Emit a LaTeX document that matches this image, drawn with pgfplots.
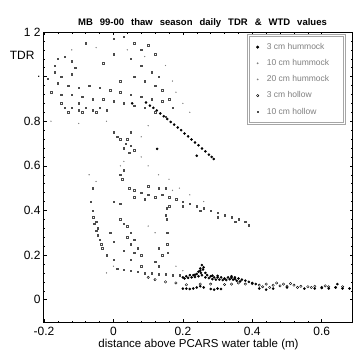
\documentclass[border=0pt]{standalone}
\usepackage{pgfplots}
\pgfplotsset{compat=1.18}
\usepackage{fontspec}
\setmainfont{Liberation Sans}
\newcommand{\lt}[1]{\makebox[68pt][l]{#1}}
\begin{document}
\begin{tikzpicture}[x=1pt,y=1pt]
\begin{axis}[
  at={(44pt,38pt)}, anchor=south west,
  width=309pt, height=290pt, scale only axis,
  xmin=-0.2, xmax=0.69, ymin=-0.1, ymax=1.2,
  xtick={-0.2,0,0.2,0.4,0.6},
  xticklabels={-0.2,0,0.2,0.4,0.6},
  ytick={0,0.2,0.4,0.6,0.8,1,1.2},
  yticklabels={0,0.2,0.4,0.6,0.8,{.},1 2},
  minor x tick num=4, minor y tick num=4,
  tick style={black, line width=0.5pt},
  major tick length=3pt, minor tick length=1.5pt,
  axis line style={line width=1pt},
  tick label style={font=\fontsize{12}{14}\selectfont},
  xticklabel style={yshift=-2pt},
  xlabel={distance above PCARS water table (m)},
  xlabel style={font=\fontsize{11.5}{13}\selectfont, yshift=4pt},
  title={\textbf{MB\hspace{7pt}99-00\hspace{7pt}thaw\hspace{7pt}season\hspace{7pt}daily\hspace{7pt}TDR\hspace{7pt}\&\hspace{7pt}WTD\hspace{7pt}values}},
  title style={font=\fontsize{9.5}{11}\selectfont, yshift=-5pt, xshift=4pt},
  legend style={at={(0.975,0.99)}, anchor=north east, draw=gray!70, double=white, double distance=1.2pt, line width=0.8pt,
     font=\fontsize{8.5}{10}\selectfont, text=gray, row sep=4.5pt, column sep=6pt, inner xsep=8pt, inner ysep=6pt},
  legend cell align=left,
  clip=false,
]
% 3 cm hummock: filled dots
\addplot[only marks, mark=*, mark size=1.1pt, black] coordinates {
(0.094,0.884)(0.105,0.87)(0.115,0.86)(0.125,0.848)(0.135,0.835)(0.145,0.822)(0.155,0.81)(0.165,0.797)(0.175,0.785)(0.185,0.772)(0.195,0.76)(0.205,0.745)(0.215,0.732)(0.225,0.718)(0.235,0.705)(0.245,0.692)(0.255,0.678)(0.265,0.665)(0.275,0.65)(0.283,0.64)(0.289,0.631)
(0.054,0.88)(0.126,0.676)(0.24,0.645)
(0.2,0.1)(0.21,0.105)(0.22,0.11)(0.23,0.11)(0.24,0.115)(0.245,0.125)(0.25,0.14)(0.255,0.155)(0.26,0.145)(0.265,0.12)(0.27,0.11)(0.28,0.105)(0.29,0.1)(0.3,0.1)(0.31,0.1)(0.32,0.095)(0.33,0.1)(0.34,0.105)(0.35,0.1)(0.36,0.095)(0.37,0.09)(0.38,0.085)(0.39,0.08)(0.4,0.075)(0.41,0.07)
(0.205,0.095)(0.215,0.098)(0.225,0.1)(0.235,0.102)(0.245,0.105)(0.255,0.11)(0.265,0.1)(0.275,0.097)(0.285,0.092)(0.295,0.09)(0.305,0.09)(0.315,0.088)(0.325,0.088)(0.335,0.092)(0.345,0.09)(0.355,0.085)(0.365,0.082)
(0.25,0.13)(0.258,0.135)(0.252,0.12)(0.235,0.112)(0.285,0.108)(0.3,0.107)(0.34,0.098)(0.35,0.093)
(0.2,0.05)(0.21,0.05)(0.22,0.048)(0.23,0.05)(0.24,0.055)(0.25,0.06)(0.26,0.055)(0.28,0.048)(0.29,0.045)(0.3,0.05)(0.31,0.048)
(0.42,0.05)(0.44,0.045)(0.46,0.05)(0.5,0.055)(0.55,0.05)(0.58,0.05)(0.6,0.052)(0.62,0.05)(0.64,0.055)(0.66,0.05)(0.68,0.05)(0.645,0.07)
};
\addlegendentry{\lt{3 cm hummock}}
% further series (small dots)
\addplot[only marks, mark=*, mark size=0.4pt, gray] coordinates {
(-0.05,0.53)(-0.07,0.56)(0.02,0.6)(0.03,0.62)(0.08,0.64)(0.1,0.6)(0.13,0.56)(0.16,0.54)(0.17,0.49)(0.19,0.5)(0.22,0.47)(0.26,0.44)(0.12,0.3)(0.1,0.33)(0.18,0.15)(0.2,0.13)(0.0,0.15)(-0.02,0.12)
};
\addlegendentry{\lt{10 cm hummock}}
\addplot[only marks, mark=*, mark size=0.4pt, gray] coordinates {
(-0.12,1.12)(-0.05,1.13)(0.04,1.12)(0.09,1.09)(0.15,1.05)(0.17,0.98)(0.18,0.93)(0.2,0.88)(0.22,0.84)(0.1,0.78)(0.08,0.73)(-0.18,0.8)(-0.1,0.79)(-0.02,0.8)
};
\addlegendentry{\lt{20 cm hummock}}
% hollow circles
\addplot[only marks, mark=o, mark size=1.2pt, black, mark options={line width=0.4pt}] coordinates {
(0.36,0.075)(0.38,0.07)(0.4,0.072)(0.42,0.065)(0.44,0.07)(0.46,0.065)(0.48,0.062)(0.5,0.06)(0.52,0.065)(0.54,0.06)(0.56,0.058)(0.58,0.06)(0.6,0.055)(0.62,0.058)(0.64,0.055)(0.43,0.058)(0.45,0.055)(0.47,0.075)(0.49,0.07)(0.51,0.072)(0.53,0.055)(0.57,0.055)(0.61,0.062)(0.66,0.058)
(0.1,0.1)(0.12,0.09)(0.15,0.08)(0.18,0.075)(0.21,0.067)(0.25,0.07)(0.28,0.07)(0.32,0.068)(0.34,0.07)
};
\addlegendentry{\lt{3 cm hollow}}
% small squares
\addplot[only marks, mark=square, mark size=0.75pt, black!70, mark options={line width=0.3pt}] coordinates {
(-0.17,1.05)(-0.16,1.08)(-0.14,1.09)(-0.12,1.07)(-0.11,1.04)(-0.12,1.01)(-0.15,1.0)(-0.17,1.02)
(-0.08,1.15)(0.0,1.17)(0.03,1.18)(0.06,1.15)(0.08,1.12)(0.1,1.14)(0.12,1.1)(0.05,1.08)(0.0,1.1)(-0.03,1.06)(0.08,1.05)(0.11,1.02)(0.13,1.0)(0.06,1.0)(0.02,0.98)
(-0.19,0.99)(-0.16,0.97)(-0.13,0.96)(-0.1,0.95)(-0.07,0.96)(-0.04,0.95)(-0.01,0.94)(0.02,0.93)(0.05,0.92)(0.08,0.91)(0.11,0.9)(0.14,0.89)
(-0.18,0.93)(-0.15,0.92)(-0.12,0.92)(-0.09,0.91)(-0.06,0.9)(-0.03,0.9)(0.0,0.89)(0.03,0.88)(0.06,0.87)(0.09,0.86)(0.12,0.84)(0.15,0.82)
(-0.14,0.86)(-0.12,0.86)(-0.1,0.85)(-0.08,0.86)(-0.06,0.85)(-0.04,0.86)(-0.02,0.85)(-0.13,0.84)(-0.09,0.84)(-0.05,0.84)(-0.15,0.88)(-0.1,0.88)
(0.01,0.73)(0.02,0.72)(0.035,0.7)(0.05,0.69)(0.06,0.67)(0.045,0.66)(0.03,0.68)(0.04,0.72)(0.0,0.75)(0.05,0.75)
(0.14,0.94)(0.12,0.96)(0.09,0.98)(0.16,0.9)(0.17,0.86)
(0.045,0.5)(0.06,0.49)(0.08,0.48)(0.1,0.47)(0.12,0.46)(0.06,0.46)(0.09,0.45)(0.14,0.47)(0.16,0.46)(0.18,0.45)(0.2,0.44)(0.22,0.43)(0.24,0.42)(0.26,0.41)(0.28,0.4)(0.3,0.39)(0.32,0.38)(0.34,0.37)(0.36,0.36)(0.38,0.35)(0.39,0.335)(0.2,0.42)(0.25,0.4)(0.3,0.37)(0.35,0.35)(0.13,0.5)(0.1,0.51)
(0.02,0.56)(0.03,0.58)(0.025,0.54)(-0.06,0.5)(0.0,0.44)(0.02,0.43)(0.15,0.5)(0.16,0.42)(0.15,0.38)
(-0.065,0.44)(-0.06,0.4)(-0.058,0.37)(-0.055,0.34)(-0.05,0.31)(-0.045,0.29)(-0.04,0.27)(-0.035,0.25)(-0.032,0.23)(-0.05,0.35)(-0.045,0.32)
(0.02,0.36)(0.03,0.34)(0.04,0.33)(0.05,0.3)(0.04,0.28)(0.06,0.27)(0.05,0.25)(0.07,0.23)(0.06,0.21)(0.08,0.2)(0.03,0.22)
(0.153,0.41)(0.153,0.36)(0.154,0.3)(0.155,0.25)(0.156,0.21)(0.13,0.23)(0.14,0.2)
(0.01,0.14)(0.03,0.135)(0.05,0.13)(0.07,0.125)(0.09,0.12)(0.11,0.12)(0.13,0.115)(0.15,0.115)(0.17,0.11)(0.19,0.11)(0.08,0.15)(0.05,0.18)(0.12,0.17)(0.13,0.15)
(-0.02,0.2)(0.0,0.18)(-0.01,0.3)(0.0,0.26)
};
\addlegendentry{\lt{10 cm hollow}}
\node[anchor=east, font=\fontsize{12}{14}\selectfont] at (rel axis cs:0,0.92) [xshift=-6pt] {TDR};
\end{axis}
\path (0,0) rectangle (353,360);
\end{tikzpicture}
\end{document}
